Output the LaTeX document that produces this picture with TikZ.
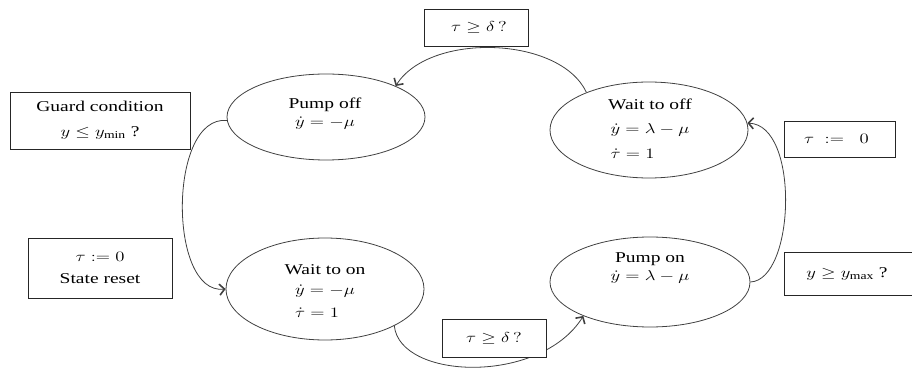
\documentclass[tikz,border=0pt]{standalone}
\usepackage{fontspec}
\setmainfont{Liberation Serif}
\usetikzlibrary{shapes.geometric,arrows.meta}
\newcommand\sx[1]{\scalebox{1.3}[1]{#1}}
\tikzset{
  state/.style={ellipse, draw=black!75, line width=0.8pt, inner sep=0pt},
  txt/.style={font=\fontsize{15}{18}\selectfont, inner sep=0pt},
  guardbox/.style={rectangle, draw=black!85, line width=0.8pt, fill=white, inner sep=0pt,
     font=\fontsize{15}{18}\selectfont, align=center},
  trans/.style={draw=black!75, line width=0.8pt,
     -{Straight Barb[length=5pt,width=11pt,line width=1.6pt]}},
}
\begin{document}
\begin{tikzpicture}[x=1pt,y=-1pt]
\useasboundingbox (0,0) rectangle (912,371);
% states
\node[state, minimum width=198pt, minimum height=86pt] (poff) at (326,117) {};
\node[state, minimum width=198pt, minimum height=96pt] (woff) at (649,130) {};
\node[state, minimum width=198pt, minimum height=102pt] (won) at (325,289) {};
\node[state, minimum width=200pt, minimum height=90pt] (pon) at (650,282) {};
% state texts
\node[txt] (poffT) at (325,113.5) {\sx{\begin{tabular}{@{}c@{}}Pump off\\ $\dot y=-\mu$\end{tabular}}};
\node[txt] (woffT) at (650,130) {\sx{\begin{tabular}{@{}c@{}}Wait to off\\[6pt]
   \begin{tabular}{@{}l@{}}$\dot y=\lambda-\mu$\\[7pt] $\dot\tau=1$\end{tabular}\end{tabular}}};
\node[txt] (wonT) at (325,292) {\sx{\begin{tabular}{@{}c@{}}Wait to on\\[2pt]
   \begin{tabular}{@{}l@{}}$\dot y=-\mu$\\[5pt] $\dot\tau=1$\end{tabular}\end{tabular}}};
\node[txt] (ponT) at (650,267.5) {\sx{\begin{tabular}{@{}c@{}}Pump on\\ $\dot y=\lambda-\mu$\end{tabular}}};
% transitions
\draw[trans] (woff.149) .. controls (560,36) and (430,32) .. (poff.24);
\draw[trans] (pon.0) .. controls (795,280) and (800,125) .. (woff.4);
\draw[trans] (poff.182) .. controls (168,115) and (168,295) .. (won.180);
\draw[trans] (won.-28.5) .. controls (400,380) and (540,385) .. (pon.207);
% guard / reset boxes
\node[guardbox, minimum width=180pt, minimum height=57pt] (g1) at (100,120.5)
  {\sx{Guard condition}\\[7pt]\sx{$y\le y_{\mathrm{min}}$ ?}};
\node[guardbox, minimum width=144pt, minimum height=60pt] (g2) at (100,268)
  {\sx{$\tau:=0$}\\[4pt]\sx{State reset}};
\node[guardbox, minimum width=104pt, minimum height=37pt] (g3) at (476,27.5)
  {\hspace*{6pt}\sx{$\tau\ge\delta\,?$}};
\node[guardbox, minimum width=111pt, minimum height=36pt] (g4) at (839.5,139)
  {\hspace*{-6pt}\sx{$\tau\;\;{:=}\;\;\;0$}};
\node[guardbox, minimum width=104pt, minimum height=38pt] (g5) at (494,338)
  {\sx{$\tau\ge\delta\,?$}};
\node[guardbox, minimum width=132pt, minimum height=43pt] (g6) at (850,273.5)
  {\hspace*{-6pt}\sx{$y\ge y_{\mathrm{max}}$ ?}};
\end{tikzpicture}
\end{document}
